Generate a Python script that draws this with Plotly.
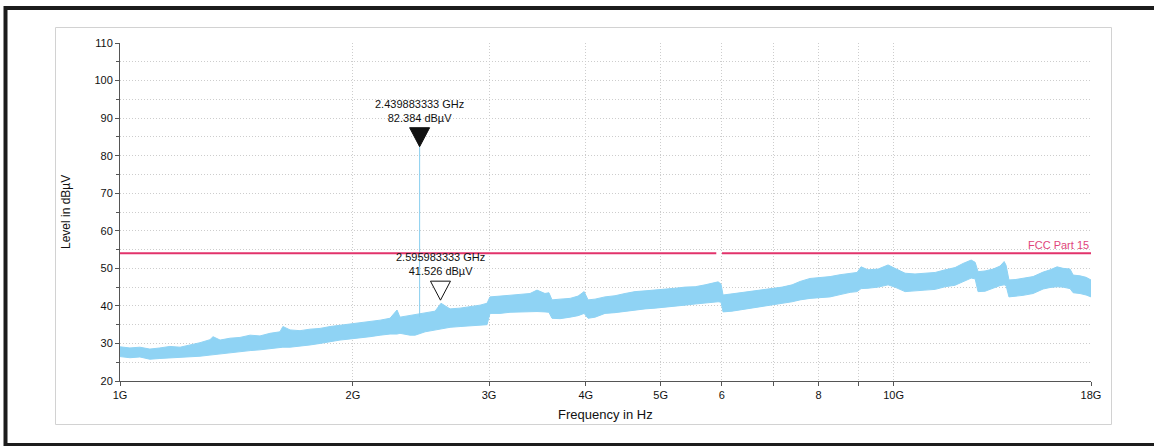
import numpy as np
import plotly.graph_objects as go

# ---------------- data ----------------
# Envelope of the measured spectrum (GHz, dBuV)
freq_ghz = [1.000, 1.030, 1.061, 1.093, 1.126, 1.160, 1.196, 1.232, 1.269, 1.307,
            1.319, 1.347, 1.388, 1.429, 1.473, 1.517, 1.563, 1.610, 1.624, 1.659,
            1.709, 1.761, 1.814, 1.869, 1.925, 1.984, 2.043, 2.105, 2.169, 2.234,
            2.281, 2.301, 2.371, 2.407, 2.480, 2.555, 2.600, 2.671, 2.752, 2.835,
            2.921, 2.982, 3.008, 3.099, 3.193, 3.289, 3.389, 3.460, 3.543, 3.585,
            3.618, 3.706, 3.818, 3.910, 3.981, 4.028, 4.113, 4.236, 4.364, 4.497,
            4.633, 4.773, 4.918, 5.066, 5.219, 5.376, 5.540, 5.706, 5.843, 5.932,
            5.984, 6.020, 6.183, 6.370, 6.563, 6.761, 6.965, 7.177, 7.393, 7.571,
            7.798, 8.035, 8.279, 8.528, 8.787, 8.971, 9.079, 9.268, 9.550, 9.838,
            10.04, 10.35, 10.66, 10.98, 11.32, 11.66, 12.01, 12.30, 12.60, 12.75,
            12.86, 13.13, 13.45, 13.73, 13.90, 13.98, 14.10, 14.36, 14.70, 15.15,
            15.61, 15.94, 16.27, 16.56, 16.91, 17.07, 17.42, 17.74, 18.00]
level_max = [29.1, 28.8, 29.0, 28.5, 28.8, 29.2, 29.0, 29.6, 30.2, 31.0,
             31.8, 30.9, 31.4, 31.6, 32.2, 32.0, 32.7, 33.1, 34.5, 33.6,
             33.4, 33.8, 34.0, 34.5, 34.8, 35.2, 35.5, 35.8, 36.2, 36.7,
             38.9, 37.0, 37.4, 37.8, 38.0, 38.6, 40.7, 39.2, 39.4, 39.8,
             40.2, 40.7, 42.4, 42.6, 42.9, 43.0, 43.3, 44.2, 43.3, 43.5,
             41.6, 41.8, 42.0, 42.6, 43.8, 41.6, 41.8, 42.4, 42.7, 43.3,
             43.8, 44.0, 44.2, 44.5, 44.7, 45.0, 45.1, 45.6, 46.0, 46.4,
             45.8, 42.9, 43.2, 43.6, 43.8, 44.2, 44.7, 45.0, 45.6, 46.5,
             47.3, 47.5, 47.8, 48.3, 48.7, 48.9, 50.4, 49.6, 49.8, 50.9,
             50.0, 48.7, 48.5, 48.7, 48.9, 49.6, 50.2, 51.3, 52.2, 51.6,
             49.1, 49.3, 49.8, 50.6, 51.8, 50.8, 46.9, 47.0, 47.3, 47.8,
             49.0, 49.6, 50.4, 50.0, 49.8, 48.2, 48.0, 47.6, 46.9]
level_min = [26.5, 26.2, 26.4, 25.8, 26.0, 26.1, 26.3, 26.5, 26.6, 26.9,
             27.0, 27.2, 27.6, 27.8, 28.1, 28.3, 28.6, 28.8, 29.0, 29.0,
             29.2, 29.6, 30.0, 30.5, 30.9, 31.2, 31.4, 31.8, 32.2, 32.5,
             32.5, 32.7, 32.2, 32.2, 33.1, 33.6, 34.0, 34.3, 34.5, 34.7,
             34.9, 35.0, 38.0, 38.0, 38.3, 38.4, 38.4, 38.5, 38.4, 38.3,
             36.7, 36.6, 37.0, 37.4, 38.0, 36.7, 37.0, 38.0, 38.2, 38.6,
             38.9, 39.2, 39.4, 39.6, 39.8, 40.2, 40.5, 40.8, 41.0, 41.1,
             41.0, 38.4, 38.6, 39.0, 39.4, 39.8, 40.2, 40.6, 41.1, 41.6,
             42.0, 42.2, 42.4, 43.0, 43.6, 43.8, 44.6, 44.7, 45.0, 45.6,
             45.0, 43.8, 43.9, 44.2, 44.4, 45.1, 45.5, 46.5, 47.4, 47.2,
             43.8, 43.9, 44.8, 45.4, 45.6, 45.4, 42.4, 42.5, 42.8, 43.3,
             44.5, 44.9, 45.1, 45.0, 44.6, 43.5, 43.3, 42.9, 42.4]

# Limit line (FCC Part 15), two segments
limit_freq = [1.0, 5.9, None, 6.0, 18.0]
limit_level = [54.0, 54.0, None, 54.0, 54.0]
limit_name = "FCC Part 15"

# Markers
marker_freq = [2.439883333, 2.595983333]
marker_level = [82.384, 41.526]
marker_text = ["2.439883333 GHz<br>82.384 dBµV", "2.595983333 GHz<br>41.526 dBµV"]
marker_fill = ["#111111", "#ffffff"]
spike_base = 37.0  # trace level under the marker-1 spike

# Axes
x_tickvals = [1, 2, 3, 4, 5, 6, 7, 8, 9, 10, 18]
x_ticktext = ["1G", "2G", "3G", "4G", "5G", "6", "", "8", "", "10G", "18G"]
y_range = [20, 110]
x_range = [1, 18]

# ---------------- figure ----------------
TRACE = "#8fd3f4"
LIMIT = "#e2336b"
FONT = "Liberation Sans, Arial, sans-serif"

fig = go.Figure()

fig.add_trace(go.Scatter(x=freq_ghz, y=level_min, mode="lines",
                         line=dict(color=TRACE, width=1), hoverinfo="skip",
                         showlegend=False))
fig.add_trace(go.Scatter(x=freq_ghz, y=level_max, mode="lines", fill="tonexty",
                         fillcolor=TRACE, line=dict(color=TRACE, width=1),
                         hoverinfo="skip", showlegend=False))

# spike at marker 1
fig.add_trace(go.Scatter(x=[marker_freq[0], marker_freq[0]],
                         y=[spike_base, marker_level[0]], mode="lines",
                         line=dict(color="#86cdee", width=1), showlegend=False,
                         hoverinfo="skip"))

# limit line
fig.add_trace(go.Scatter(x=limit_freq, y=limit_level, mode="lines",
                         line=dict(color=LIMIT, width=2), connectgaps=False,
                         showlegend=False, hoverinfo="skip"))

# marker triangles (tip at the data point) and labels
for f, lv, txt, fc in zip(marker_freq, marker_level, marker_text, marker_fill):
    fig.add_shape(type="path", xref="x", yref="y",
                  xsizemode="pixel", ysizemode="pixel",
                  xanchor=f, yanchor=lv,
                  path="M-10,19 L10,19 L0,0 Z",
                  fillcolor=fc, line=dict(color="#111111", width=1))
    fig.add_annotation(x=np.log10(f), y=lv, xref="x", yref="y",
                       text=txt, showarrow=False, xanchor="center",
                       yanchor="bottom", yshift=21,
                       font=dict(family=FONT, size=11, color="#111111"))

# limit label
fig.add_annotation(x=np.log10(x_range[1]), y=limit_level[-1], xref="x", yref="y",
                   text=limit_name, showarrow=False, xanchor="right",
                   yanchor="bottom", yshift=0,
                   font=dict(family=FONT, size=11, color="#e0457b"))

# axis titles
L, R, T, B = 120, 63, 43, 65
W, H = 1154, 446
pw, ph = W - L - R, H - T - B


def px(x):
    return (x - L) / pw


def py(y):
    return (H - B - y) / ph


fig.add_annotation(x=px(66), y=0.5, xref="paper", yref="paper",
                   xanchor="center", yanchor="middle",
                   text="Level in dBµV", textangle=-90, showarrow=False,
                   font=dict(family=FONT, size=12, color="#111111"))
fig.add_annotation(x=0.5, y=py(414), xref="paper", yref="paper",
                   xanchor="center", yanchor="middle",
                   text="Frequency in Hz", showarrow=False,
                   font=dict(family=FONT, size=13, color="#111111"))

# decorative frames
fig.add_shape(type="rect", xref="paper", yref="paper",
              x0=px(55.5), x1=px(1111.5), y0=py(424.5), y1=py(27.5),
              line=dict(color="#d2d2d2", width=1), layer="below")
fig.add_shape(type="rect", xref="paper", yref="paper",
              x0=px(5.5), x1=px(1165), y0=py(445), y1=py(8),
              line=dict(color="#1c1c1c", width=4))

GRID = "#cdcdcd"
DOT = "1px,2px"
fig.update_xaxes(type="log", range=[np.log10(x_range[0]), np.log10(x_range[1])],
                 tickvals=x_tickvals, ticktext=x_ticktext,
                 showgrid=True, gridcolor=GRID, griddash=DOT, gridwidth=1,
                 showline=True, linecolor="#555555", linewidth=1,
                 ticks="outside", ticklen=4, tickcolor="#555555",
                 tickfont=dict(family=FONT, size=11, color="#111111"),
                 zeroline=False, fixedrange=True)
fig.update_yaxes(range=y_range, dtick=10, tick0=0,
                 showgrid=True, gridcolor=GRID, griddash=DOT, gridwidth=1,
                 showline=True, linecolor="#555555", linewidth=1,
                 ticks="outside", ticklen=4, tickcolor="#555555",
                 tickfont=dict(family=FONT, size=11, color="#111111"),
                 minor=dict(dtick=5, ticks="outside", ticklen=3,
                            tickcolor="#555555", showgrid=True,
                            gridcolor=GRID, griddash=DOT),
                 zeroline=False, fixedrange=True)

fig.update_layout(width=W, height=H, autosize=False,
                  margin=dict(l=L, r=R, t=T, b=B),
                  paper_bgcolor="white", plot_bgcolor="white",
                  showlegend=False)

fig.write_html("out.html")
